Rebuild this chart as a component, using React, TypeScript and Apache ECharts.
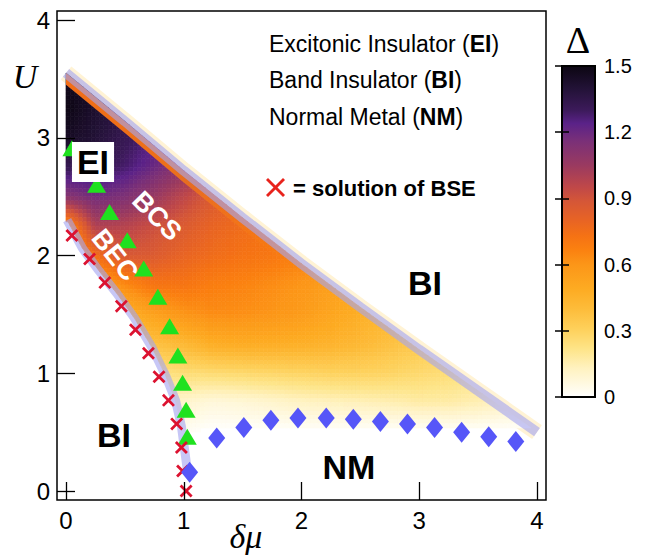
import { useEffect, useRef } from 'react';
import * as echarts from 'echarts';

// ---------------- data ----------------
// upper (BCS side) phase boundary: [δμ, U]
const UPPER_LINE: number[][] = [
  [0, 3.55], [0.5, 3.14], [1, 2.72], [1.5, 2.32], [2, 1.93],
  [2.5, 1.56], [3, 1.2], [3.5, 0.85], [4, 0.5],
];
// lower (BEC side) phase boundary: [δμ, U]
const BEC_LINE: number[][] = [
  [0.01, 2.3], [0.14, 2.06], [0.28, 1.87], [0.43, 1.68], [0.58, 1.47],
  [0.73, 1.22], [0.85, 0.97], [0.93, 0.77], [0.98, 0.55], [1.01, 0.33], [1.03, 0.18],
];
// green triangles
const TRI_MU = [0.05, 0.26, 0.37, 0.52, 0.66, 0.78, 0.88, 0.95, 0.99, 1.02, 1.03];
const TRI_U = [2.91, 2.6, 2.37, 2.13, 1.89, 1.65, 1.4, 1.15, 0.92, 0.69, 0.46];
// red crosses (solution of BSE)
const CROSS_MU = [0.05, 0.2, 0.33, 0.47, 0.59, 0.7, 0.79, 0.87, 0.94, 0.98, 0.99, 1.02];
const CROSS_U = [2.17, 1.97, 1.77, 1.57, 1.37, 1.17, 0.97, 0.77, 0.57, 0.37, 0.17, 0.0];
// blue diamonds (NM boundary)
const DIA_MU = [1.05, 1.28, 1.51, 1.74, 1.97, 2.21, 2.44, 2.67, 2.9, 3.13, 3.36, 3.59, 3.82];
const DIA_U = [0.16, 0.45, 0.54, 0.6, 0.62, 0.62, 0.61, 0.59, 0.57, 0.54, 0.5, 0.46, 0.42];

// gap Δ read on a coarse grid (rows: U, columns: δμ)
const GRID_MU = [0, 0.25, 0.5, 0.75, 1, 1.25, 1.5, 1.75, 2, 2.25, 2.5, 2.75, 3, 3.25, 3.5, 3.75, 4];
const GRID_U = [3.75, 3.5, 3.25, 3, 2.75, 2.5, 2.25, 2, 1.75, 1.5, 1.25, 1, 0.75, 0.5, 0.25];
const DELTA_ROWS: number[][] = [
  [1.45, 1.45, 1.4, 1.35, 0, 0, 0, 0, 0, 0, 0, 0, 0, 0, 0, 0, 0],
  [1.46, 1.44, 1.36, 1.3, 1.25, 0, 0, 0, 0, 0, 0, 0, 0, 0, 0, 0, 0],
  [1.5, 1.42, 1.35, 1.28, 1.2, 0, 0, 0, 0, 0, 0, 0, 0, 0, 0, 0, 0],
  [1.45, 1.4, 1.32, 1.25, 1.18, 1.1, 0, 0, 0, 0, 0, 0, 0, 0, 0, 0, 0],
  [1.32, 1.32, 1.28, 1.2, 1.1, 1.0, 0.9, 0, 0, 0, 0, 0, 0, 0, 0, 0, 0],
  [1.12, 1.18, 1.15, 1.06, 0.96, 0.86, 0.8, 0.75, 0, 0, 0, 0, 0, 0, 0, 0, 0],
  [0.6, 1.0, 0.98, 0.92, 0.86, 0.8, 0.76, 0.72, 0.68, 0, 0, 0, 0, 0, 0, 0, 0],
  [0.5, 0.75, 0.88, 0.86, 0.8, 0.76, 0.73, 0.71, 0.67, 0.62, 0.58, 0, 0, 0, 0, 0, 0],
  [0.5, 0.52, 0.64, 0.72, 0.72, 0.68, 0.66, 0.63, 0.6, 0.55, 0.5, 0.45, 0, 0, 0, 0, 0],
  [0, 0.45, 0.46, 0.54, 0.6, 0.63, 0.62, 0.6, 0.57, 0.52, 0.47, 0.42, 0.38, 0, 0, 0, 0],
  [0, 0, 0.35, 0.38, 0.42, 0.48, 0.49, 0.48, 0.47, 0.45, 0.42, 0.38, 0.34, 0.3, 0.25, 0, 0],
  [0, 0, 0, 0.22, 0.25, 0.26, 0.27, 0.28, 0.29, 0.3, 0.3, 0.29, 0.27, 0.25, 0.22, 0.18, 0],
  [0, 0, 0, 0.12, 0.1, 0.07, 0.08, 0.1, 0.12, 0.13, 0.14, 0.15, 0.17, 0.17, 0.15, 0.12, 0.1],
  [0, 0, 0, 0, 0.02, 0, 0, 0, 0, 0, 0, 0, 0, 0, 0, 0, 0],
  [0, 0, 0, 0, 0, 0, 0, 0, 0, 0, 0, 0, 0, 0, 0, 0, 0],
];

// colour scale of Δ
const COLOR_STOPS: [number, string][] = [
  [0, '#ffffff'], [0.04, '#fffbea'], [0.13, '#fff2c0'], [0.22, '#fee487'],
  [0.31, '#fed05a'], [0.4, '#fdbc3a'], [0.49, '#fdab22'], [0.6, '#fc9618'],
  [0.67, '#fb8010'], [0.73, '#f57214'], [0.8, '#e86424'], [0.89, '#d45638'],
  [0.95, '#c04848'], [1.05, '#9a3a60'], [1.16, '#7a3078'], [1.24, '#5a2288'],
  [1.3, '#3c1a5a'], [1.4, '#221236'], [1.5, '#0c0612'],
];
const CBAR_MAX = 1.5;
const CBAR_INTERVAL = 0.3;

// ---------------- helpers ----------------
function hexRgb(h: string): number[] {
  return [parseInt(h.slice(1, 3), 16), parseInt(h.slice(3, 5), 16), parseInt(h.slice(5, 7), 16)];
}
function colorAt(v: number): string {
  const s = COLOR_STOPS;
  if (v <= s[0][0]) return s[0][1];
  for (let i = 1; i < s.length; i++) {
    if (v <= s[i][0]) {
      const t = (v - s[i - 1][0]) / (s[i][0] - s[i - 1][0]);
      const a = hexRgb(s[i - 1][1]);
      const b = hexRgb(s[i][1]);
      return `rgb(${Math.round(a[0] + (b[0] - a[0]) * t)},${Math.round(a[1] + (b[1] - a[1]) * t)},${Math.round(a[2] + (b[2] - a[2]) * t)})`;
    }
  }
  return s[s.length - 1][1];
}
function upperAt(x: number): number {
  const p = UPPER_LINE;
  if (x <= p[0][0]) return p[0][1];
  for (let i = 1; i < p.length; i++) {
    if (x <= p[i][0]) {
      const t = (x - p[i - 1][0]) / (p[i][0] - p[i - 1][0]);
      return p[i - 1][1] + (p[i][1] - p[i - 1][1]) * t;
    }
  }
  return p[p.length - 1][1];
}
function becAt(u: number): number {
  const p = BEC_LINE;
  if (u >= p[0][1]) return -1;
  for (let i = 1; i < p.length; i++) {
    if (u >= p[i][1]) {
      const t = (u - p[i - 1][1]) / (p[i][1] - p[i - 1][1]);
      return p[i - 1][0] + (p[i][0] - p[i - 1][0]) * t;
    }
  }
  return p[p.length - 1][0];
}
function clipPoly(poly: number[][], f: (p: number[]) => number): number[][] {
  const out: number[][] = [];
  for (let i = 0; i < poly.length; i++) {
    const cur = poly[i];
    const prev = poly[(i + poly.length - 1) % poly.length];
    const fc = f(cur);
    const fp = f(prev);
    if (fc >= 0) {
      if (fp < 0) {
        const t = fp / (fp - fc);
        out.push([prev[0] + (cur[0] - prev[0]) * t, prev[1] + (cur[1] - prev[1]) * t]);
      }
      out.push(cur);
    } else if (fp >= 0) {
      const t = fp / (fp - fc);
      out.push([prev[0] + (cur[0] - prev[0]) * t, prev[1] + (cur[1] - prev[1]) * t]);
    }
  }
  return out;
}
const fUpper = (p: number[]) => upperAt(p[0]) - p[1];
const fBec = (p: number[]) => p[0] - becAt(p[1]);

const HEAT_CELLS: number[][] = [];
for (let r = 0; r < GRID_U.length - 1; r++) {
  for (let c = 0; c < GRID_MU.length - 1; c++) {
    HEAT_CELLS.push([GRID_MU[c], GRID_U[r], c, r]);
  }
}

const SUB = 7;
const BAND_END = 2.5;
const BAND_DEPTH = 0.1;

export default function App() {
  const ref = useRef<HTMLDivElement>(null);
  useEffect(() => {
    if (!ref.current) return;
    const chart = echarts.init(ref.current, undefined, { renderer: 'svg' });
    const SANS = 'Liberation Sans, Arial, sans-serif';
    const SERIF = 'Liberation Serif, Times New Roman, serif';

    const tickStyle = { inside: true, length: 9, lineStyle: { color: '#000', width: 1.3 } };
    const cbTick = { inside: true, length: 7, lineStyle: { color: '#000', width: 1.5 } };

    const option: any = {
      animation: false,
      backgroundColor: '#fff',
      grid: [
        { left: 66, top: 20, width: 471, height: 471 },
        { left: 562, top: 66, width: 33, height: 331 },
      ],
      xAxis: [
        {
          gridIndex: 0, type: 'value', min: 0, max: 4, interval: 1, position: 'bottom', offset: 9, z: 10,
          axisLine: { show: false }, axisTick: tickStyle, splitLine: { show: false },
          axisLabel: { fontSize: 24, color: '#000', fontFamily: SANS, margin: 8 },
        },
        {
          gridIndex: 0, type: 'value', min: 0, max: 4, interval: 1, position: 'top', offset: 9, z: 10,
          axisLine: { show: false }, axisTick: tickStyle, splitLine: { show: false }, axisLabel: { show: false },
        },
        { gridIndex: 1, type: 'value', min: 0, max: 1, show: false },
      ],
      yAxis: [
        {
          gridIndex: 0, type: 'value', min: 0, max: 4, interval: 1, position: 'left', offset: 9, z: 10,
          axisLine: { show: false }, axisTick: tickStyle, splitLine: { show: false },
          axisLabel: { fontSize: 24, color: '#000', fontFamily: SANS, margin: 7 },
        },
        {
          gridIndex: 0, type: 'value', min: 0, max: 4, interval: 1, position: 'right', offset: 9, z: 10,
          axisLine: { show: false }, axisTick: tickStyle, splitLine: { show: false }, axisLabel: { show: false },
        },
        {
          gridIndex: 1, type: 'value', min: 0, max: CBAR_MAX, interval: CBAR_INTERVAL, position: 'right', z: 10,
          axisLine: { show: false }, axisTick: cbTick, splitLine: { show: false },
          axisLabel: { fontSize: 20, color: '#000', fontFamily: SANS, margin: 9, formatter: (v: number) => String(+v.toFixed(1)) },
        },
        {
          gridIndex: 1, type: 'value', min: 0, max: CBAR_MAX, interval: CBAR_INTERVAL, position: 'left', z: 10,
          axisLine: { show: false }, axisTick: cbTick, splitLine: { show: false }, axisLabel: { show: false },
        },
      ],
      series: [
        {
          type: 'line', name: 'glow', data: UPPER_LINE, symbol: 'none', silent: true, z: 1,
          lineStyle: { width: 17, color: 'rgba(255,226,150,0.4)', cap: 'butt' },
        },
        {
          type: 'custom', name: 'gap', data: HEAT_CELLS, silent: true, z: 2,
          encode: { x: 0, y: 1 },
          renderItem: (_params: any, api: any) => {
            const c = api.value(2);
            const r = api.value(3);
            const v00 = DELTA_ROWS[r][c], v01 = DELTA_ROWS[r][c + 1];
            const v10 = DELTA_ROWS[r + 1][c], v11 = DELTA_ROWS[r + 1][c + 1];
            if (v00 + v01 + v10 + v11 < 0.02) return { type: 'group', children: [] };
            const mu0 = GRID_MU[c], mu1 = GRID_MU[c + 1];
            const uA = GRID_U[r], uB = GRID_U[r + 1];
            const children: any[] = [];
            for (let a = 0; a < SUB; a++) {
              for (let b = 0; b < SUB; b++) {
                const fx = (a + 0.5) / SUB;
                const fy = (b + 0.5) / SUB;
                const v = v00 * (1 - fx) * (1 - fy) + v01 * fx * (1 - fy) + v10 * (1 - fx) * fy + v11 * fx * fy;
                if (v < 0.015) continue;
                const xa = mu0 + (mu1 - mu0) * a / SUB;
                const xb = mu0 + (mu1 - mu0) * (a + 1) / SUB;
                const ua = uA + (uB - uA) * b / SUB;
                const ub = uA + (uB - uA) * (b + 1) / SUB;
                let poly = [[xa, ua], [xb, ua], [xb, ub], [xa, ub]];
                poly = clipPoly(poly, fUpper);
                if (poly.length < 3) continue;
                poly = clipPoly(poly, fBec);
                if (poly.length < 3) continue;
                const col = colorAt(v);
                children.push({
                  type: 'polygon',
                  shape: { points: poly.map((p) => api.coord(p)) },
                  style: { fill: col, stroke: col, lineWidth: 0.7 },
                });
              }
            }
            return { type: 'group', children };
          },
        },
        {
          type: 'custom', name: 'band', data: [[0, 0]], silent: true, z: 3,
          encode: { x: 0, y: 1 },
          renderItem: (_params: any, api: any) => {
            const top = UPPER_LINE.filter((p) => p[0] <= BAND_END);
            const pts = [
              ...top.map((p) => api.coord(p)),
              ...top.slice().reverse().map((p) => api.coord([p[0], p[1] - BAND_DEPTH])),
            ];
            return {
              type: 'polygon',
              shape: { points: pts },
              style: {
                fill: new echarts.graphic.LinearGradient(0, 0, 1, 0, [
                  { offset: 0, color: 'rgba(242,110,24,1)' },
                  { offset: 0.35, color: 'rgba(244,116,20,0.95)' },
                  { offset: 0.65, color: 'rgba(246,128,20,0.35)' },
                  { offset: 0.85, color: 'rgba(246,130,20,0)' },
                  { offset: 1, color: 'rgba(246,130,20,0)' },
                ]),
              },
            };
          },
        },
        {
          type: 'line', name: 'upper', data: UPPER_LINE, symbol: 'none', silent: true, z: 4,
          lineStyle: { width: 10, color: 'rgba(165,165,240,0.62)', cap: 'butt' },
        },
        {
          type: 'line', name: 'bec', data: BEC_LINE, symbol: 'none', silent: true, z: 4,
          lineStyle: { width: 9, color: 'rgba(165,165,240,0.62)', cap: 'butt' },
        },
        {
          type: 'scatter', name: 'triangles', data: TRI_MU.map((m, i) => [m, TRI_U[i]]), z: 5, clip: false,
          symbol: 'triangle', symbolSize: [19, 16], itemStyle: { color: '#1fe11f', opacity: 1 },
        },
        {
          type: 'scatter', name: 'crosses', data: CROSS_MU.map((m, i) => [m, CROSS_U[i]]), z: 6, clip: false,
          symbol: 'path://M0,1.5L1.5,0L5,3.5L8.5,0L10,1.5L6.5,5L10,8.5L8.5,10L5,6.5L1.5,10L0,8.5L3.5,5Z',
          symbolSize: 13, itemStyle: { color: '#dc1230', opacity: 1 },
        },
        {
          type: 'scatter', name: 'diamonds', data: DIA_MU.map((m, i) => [m, DIA_U[i]]), z: 6, clip: false,
          symbol: 'diamond', symbolSize: [17, 21], itemStyle: { color: '#5656f8', opacity: 1 },
        },
        {
          type: 'custom', name: 'colorbar', xAxisIndex: 2, yAxisIndex: 2, data: [[0, 0]], silent: true, z: 2,
          encode: { x: 0, y: 1 },
          renderItem: (_params: any, api: any) => {
            const p0 = api.coord([0, 0]);
            const p1 = api.coord([1, CBAR_MAX]);
            return {
              type: 'rect',
              shape: { x: p0[0], y: p1[1], width: p1[0] - p0[0], height: p0[1] - p1[1] },
              style: {
                fill: new echarts.graphic.LinearGradient(0, 1, 0, 0,
                  COLOR_STOPS.map(([v, col]) => ({ offset: v / CBAR_MAX, color: col }))),
                stroke: '#000', lineWidth: 2,
              },
            };
          },
        },
      ],
      graphic: {
        elements: [
          { type: 'rect', z: 100, shape: { x: 57, y: 11, width: 489, height: 489 }, style: { fill: 'none', stroke: '#000', lineWidth: 1.5 } },
          { type: 'text', z: 100, x: 25, y: 76, style: { text: 'U', fontSize: 34, fontStyle: 'italic', fontFamily: SERIF, fill: '#000', align: 'center', verticalAlign: 'middle' } },
          { type: 'text', z: 100, x: 246, y: 536, style: { text: 'δμ', fontSize: 34, fontStyle: 'italic', fontFamily: SERIF, fill: '#000', align: 'center', verticalAlign: 'middle' } },
          { type: 'text', z: 100, x: 578, y: 40, style: { text: 'Δ', fontSize: 38, fontFamily: SERIF, fill: '#000', align: 'center', verticalAlign: 'middle' } },
          {
            type: 'text', z: 100, x: 269, y: 44,
            style: { text: 'Excitonic Insulator ({b|EI})', fontSize: 23, fontFamily: SANS, fill: '#000', verticalAlign: 'middle', rich: { b: { fontSize: 23, fontFamily: SANS, fontWeight: 'bold', fill: '#000' } } },
          },
          {
            type: 'text', z: 100, x: 269, y: 80,
            style: { text: 'Band Insulator ({b|BI})', fontSize: 23, fontFamily: SANS, fill: '#000', verticalAlign: 'middle', rich: { b: { fontSize: 23, fontFamily: SANS, fontWeight: 'bold', fill: '#000' } } },
          },
          {
            type: 'text', z: 100, x: 269, y: 117,
            style: { text: 'Normal Metal ({b|NM})', fontSize: 23, fontFamily: SANS, fill: '#000', verticalAlign: 'middle', rich: { b: { fontSize: 23, fontFamily: SANS, fontWeight: 'bold', fill: '#000' } } },
          },
          { type: 'line', z: 100, shape: { x1: 267, y1: 179, x2: 284, y2: 196 }, style: { stroke: '#e8231c', lineWidth: 2.8 } },
          { type: 'line', z: 100, shape: { x1: 284, y1: 179, x2: 267, y2: 196 }, style: { stroke: '#e8231c', lineWidth: 2.8 } },
          { type: 'text', z: 100, x: 293, y: 188, style: { text: '= solution of BSE', fontSize: 22, fontWeight: 'bold', fontFamily: SANS, fill: '#000', verticalAlign: 'middle' } },
          { type: 'text', z: 100, x: 93, y: 162, style: { text: 'EI', fontSize: 34, fontWeight: 'bold', fontFamily: SANS, fill: '#000', align: 'center', verticalAlign: 'middle', backgroundColor: '#fff', padding: [4, 5, 2, 5] } },
          { type: 'text', z: 100, x: 157, y: 216, rotation: -0.79, style: { text: 'BCS', fontSize: 27, fontWeight: 'bold', fontFamily: SANS, fill: '#fff', align: 'center', verticalAlign: 'middle' } },
          { type: 'text', z: 100, x: 115, y: 255, rotation: -0.9, style: { text: 'BEC', fontSize: 27, fontWeight: 'bold', fontFamily: SANS, fill: '#fff', align: 'center', verticalAlign: 'middle' } },
          { type: 'text', z: 100, x: 114, y: 435, style: { text: 'BI', fontSize: 34, fontWeight: 'bold', fontFamily: SANS, fill: '#000', align: 'center', verticalAlign: 'middle' } },
          { type: 'text', z: 100, x: 425, y: 283, style: { text: 'BI', fontSize: 34, fontWeight: 'bold', fontFamily: SANS, fill: '#000', align: 'center', verticalAlign: 'middle' } },
          { type: 'text', z: 100, x: 349, y: 467, style: { text: 'NM', fontSize: 34, fontWeight: 'bold', fontFamily: SANS, fill: '#000', align: 'center', verticalAlign: 'middle' } },
        ],
      },
    };
    chart.setOption(option);
    return () => chart.dispose();
  }, []);
  return <div ref={ref} style={{ position: 'fixed', left: 0, top: 0, width: 661, height: 555 }} />;
}
